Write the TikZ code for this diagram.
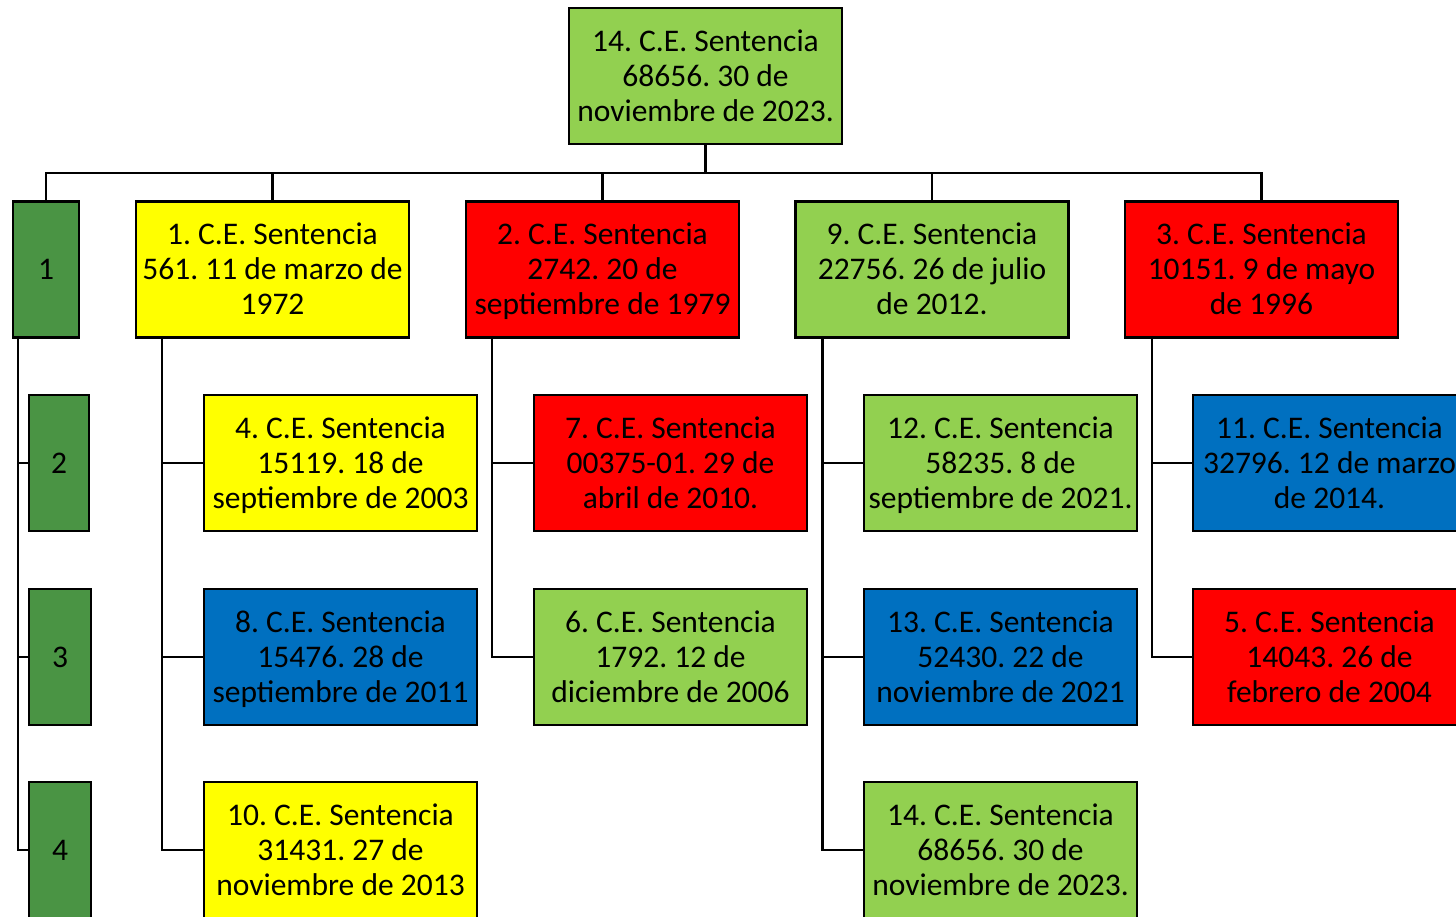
\documentclass[tikz,border=0pt]{standalone}
\usepackage{fontspec}
\setmainfont{Carlito}
\frenchspacing
\definecolor{lgreen}{HTML}{92D050}
\definecolor{dgreen}{HTML}{4A9444}
\definecolor{cyellow}{HTML}{FFFF00}
\definecolor{cred}{HTML}{FF0000}
\definecolor{cblue}{HTML}{0070C0}
\newcommand{\topstrut}{\rule{0pt}{24.5pt}}
\begin{document}
\begin{tikzpicture}[x=1pt,y=-1pt,
  box/.style={draw=black,line width=2.5pt,minimum width=273pt,minimum height=136pt,inner sep=0pt,align=center,font=\fontsize{31.5}{35}\selectfont,execute at begin node=\topstrut,text depth=1.5pt},
  numbox/.style={draw=black,line width=2.5pt,minimum height=136pt,inner sep=0pt,align=center,fill=dgreen,font=\fontsize{31.5}{35}\selectfont},
  conn/.style={draw=black,line width=2.5pt}]
\useasboundingbox (0,0) rectangle (1456,917);
\begin{scope}
\clip (0,0) rectangle (1456,917);
% root
\node[box,fill=lgreen] (root) at (705.5,76) {14. C.E. Sentencia\\68656. 30 de\\noviembre de 2023.};
\coordinate (bus) at (705.5,173);
% level 1
\node[numbox,minimum width=66pt] (g1) at (46,269.5) {1};
\node[box,fill=cyellow] (a1) at (272.5,269.5) {1. C.E. Sentencia\\561. 11 de marzo de\\1972};
\node[box,fill=cred] (b1) at (602.5,269.5) {2. C.E. Sentencia\\2742. 20 de\\septiembre de 1979};
\node[box,fill=lgreen] (c1) at (932,269.5) {9. C.E. Sentencia\\22756. 26 de julio\\de 2012.};
\node[box,fill=cred] (d1) at (1261.5,269.5) {3. C.E. Sentencia\\10151. 9 de mayo\\de 1996};
% left numbers
\node[numbox,minimum width=60pt] (g2) at (59,463) {2};
\node[numbox,minimum width=62pt] (g3) at (60,657) {3};
\node[numbox,minimum width=62pt] (g4) at (60,850) {4};
% column a
\node[box,fill=cyellow] (a2) at (340.5,463) {4. C.E. Sentencia\\15119. 18 de\\septiembre de 2003};
\node[box,fill=cblue] (a3) at (340.5,657) {8. C.E. Sentencia\\15476. 28 de\\septiembre de 2011};
\node[box,fill=cyellow] (a4) at (340.5,850) {10. C.E. Sentencia\\31431. 27 de\\noviembre de 2013};
% column b
\node[box,fill=cred] (b2) at (670.5,463) {7. C.E. Sentencia\\00375-01. 29 de\\abril de 2010.};
\node[box,fill=lgreen] (b3) at (670.5,657) {6. C.E. Sentencia\\1792. 12 de\\diciembre de 2006};
% column c
\node[box,fill=lgreen] (c2) at (1000.5,463) {12. C.E. Sentencia\\58235. 8 de\\septiembre de 2021.};
\node[box,fill=cblue] (c3) at (1000.5,657) {13. C.E. Sentencia\\52430. 22 de\\noviembre de 2021};
\node[box,fill=lgreen] (c4) at (1000.5,850) {14. C.E. Sentencia\\68656. 30 de\\noviembre de 2023.};
% column d
\node[box,fill=cblue] (d2) at (1329.5,463) {11. C.E. Sentencia\\32796. 12 de marzo\\de 2014.};
\node[box,fill=cred] (d3) at (1329.5,657) {5. C.E. Sentencia\\14043. 26 de\\febrero de 2004};
% connectors
\draw[conn] (root.south) -- (bus);
\foreach \n in {g1,a1,b1,c1,d1} \draw[conn] (\n.north) |- (bus);
\draw[conn] ([xshift=6pt]g1.south west) |- (g2.west);
\draw[conn] ([xshift=6pt]g1.south west) |- (g3.west);
\draw[conn] ([xshift=6pt]g1.south west) |- (g4.west);
\draw[conn] ([xshift=27pt]a1.south west) |- (a2.west);
\draw[conn] ([xshift=27pt]a1.south west) |- (a3.west);
\draw[conn] ([xshift=27pt]a1.south west) |- (a4.west);
\draw[conn] ([xshift=27pt]b1.south west) |- (b2.west);
\draw[conn] ([xshift=27pt]b1.south west) |- (b3.west);
\draw[conn] ([xshift=28pt]c1.south west) |- (c2.west);
\draw[conn] ([xshift=28pt]c1.south west) |- (c3.west);
\draw[conn] ([xshift=28pt]c1.south west) |- (c4.west);
\draw[conn] ([xshift=28pt]d1.south west) |- (d2.west);
\draw[conn] ([xshift=28pt]d1.south west) |- (d3.west);
\end{scope}
\end{tikzpicture}
\end{document}
